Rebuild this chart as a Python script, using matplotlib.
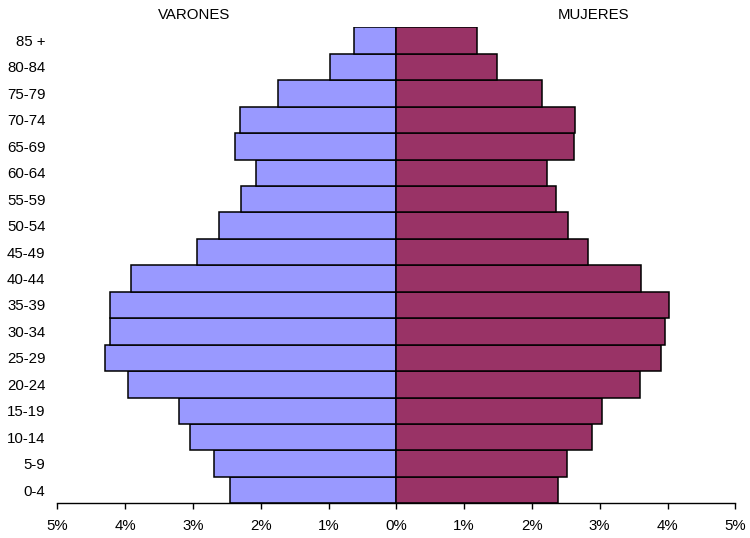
import matplotlib
matplotlib.use("Agg")
import matplotlib.pyplot as plt
from matplotlib.ticker import FuncFormatter

plt.rcParams['font.family'] = ['Liberation Sans', 'DejaVu Sans']

groups = ["0-4", "5-9", "10-14", "15-19", "20-24", "25-29", "30-34", "35-39",
          "40-44", "45-49", "50-54", "55-59", "60-64", "65-69", "70-74",
          "75-79", "80-84", "85 +"]
varones = [2.45, 2.69, 3.04, 3.20, 3.96, 4.29, 4.22, 4.23, 3.91, 2.94,
           2.61, 2.29, 2.07, 2.38, 2.31, 1.75, 0.98, 0.63]
mujeres = [2.39, 2.52, 2.88, 3.03, 3.59, 3.91, 3.96, 4.02, 3.61, 2.83,
           2.53, 2.36, 2.22, 2.62, 2.64, 2.15, 1.49, 1.19]
xticks = [-5, -4, -3, -2, -1, 0, 1, 2, 3, 4, 5]

fig = plt.figure(figsize=(7.5, 5.38), dpi=100)
ax = fig.add_axes([57.3/750, 1-503.3/538, (735.3-57.3)/750, (503.3-27.3)/538])

y = list(range(len(groups)))
ax.barh(y, [-v for v in varones], height=1.0, color='#9999FF', edgecolor='black', linewidth=1.1)
ax.barh(y, mujeres, height=1.0, color='#993366', edgecolor='black', linewidth=1.1)

ax.set_xlim(-5, 5)
ax.set_ylim(-0.5, len(groups) - 0.5)
ax.set_xticks(xticks)
ax.xaxis.set_major_formatter(FuncFormatter(lambda v, p: f"{abs(int(round(v)))}%"))
ax.set_yticks(y)
ax.set_yticklabels(groups)
ax.tick_params(axis='y', length=0, pad=8.5, labelsize=10.8)
ax.tick_params(axis='x', length=4, width=1, direction='out', pad=7, labelsize=10.8)
for s in ['top', 'right', 'left']:
    ax.spines[s].set_visible(False)
ax.spines['bottom'].set_linewidth(1)

fig.text(193.8/750, 1-15/538, "VARONES", ha='center', va='center', fontsize=10.8)
fig.text(593.7/750, 1-15/538, "MUJERES", ha='center', va='center', fontsize=10.8)

fig.savefig("out.png", dpi=100)
